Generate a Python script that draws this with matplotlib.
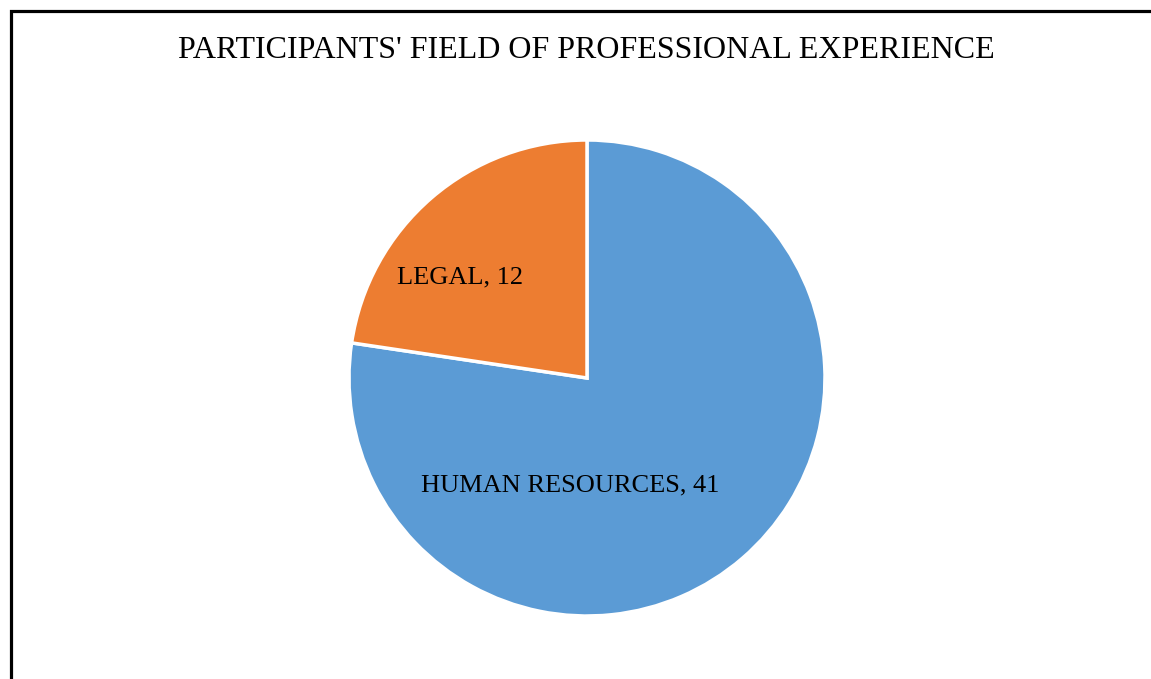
import matplotlib.pyplot as plt
from matplotlib.patches import Rectangle

# Data
fields = ["HUMAN RESOURCES", "LEGAL"]
counts = [41, 12]
colors = ["#5B9BD5", "#ED7D31"]
label_pos = [(-0.07, -0.45), (-0.534, 0.424)]  # where the data labels sit

plt.rcParams['font.family'] = ['Liberation Serif', 'DejaVu Serif']

fig = plt.figure(figsize=(11.51, 6.79), dpi=100)
W, H = 1151, 679

# chart frame (cropped on the right and bottom)
fig.patches.append(Rectangle((10.5 / W, -0.1), 1.2, 1 - 11 / H + 0.1,
                             transform=fig.transFigure, fill=False,
                             edgecolor='black', linewidth=2.3))

fig.text(586.5 / W, 1 - 51 / H, "PARTICIPANTS' FIELD OF PROFESSIONAL EXPERIENCE",
         ha='center', va='center', fontsize=23)

r = 238
ax = fig.add_axes([(587 - r) / W, (679 - 378 - r) / H, 2 * r / W, 2 * r / H])
ax.pie(counts, colors=colors, startangle=90, counterclock=False, radius=1,
       wedgeprops=dict(edgecolor='white', linewidth=2.5))
ax.set_xlim(-1, 1)
ax.set_ylim(-1, 1)
ax.set_aspect('equal')
ax.axis('off')

for name, n, (x, y) in zip(fields, counts, label_pos):
    ax.text(x, y, f"{name}, {n}", ha='center', va='center', fontsize=19)

fig.savefig("out.png", dpi=100)
